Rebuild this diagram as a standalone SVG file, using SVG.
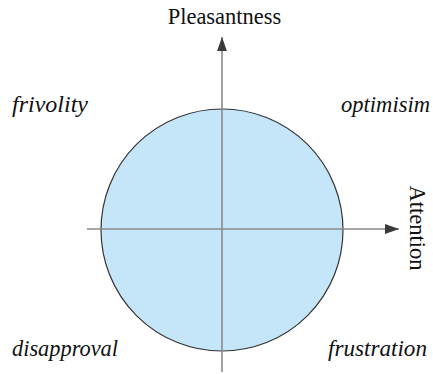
<svg xmlns="http://www.w3.org/2000/svg" width="433" height="374" viewBox="0 0 433 374">
<defs>
<style>
.axis{stroke:#8a8a8a;stroke-width:1.6;fill:none}
.lbl{font-family:"Liberation Serif","Times New Roman",serif;font-size:22.5px;fill:#111}
.it{font-style:italic}
</style>
<marker id="ah" viewBox="0 0 10 10" refX="10" refY="5" markerWidth="14" markerHeight="14" markerUnits="userSpaceOnUse" orient="auto">
<path d="M0,1.5 L10,5 L0,8.5 Z" fill="#3a3a3a"/>
</marker>
</defs>
<rect width="433" height="374" fill="#fff"/>
<g id="circle">
<circle cx="222" cy="230" r="121" fill="#c4e6f8" stroke="#333" stroke-width="1.2"/>
</g>
<g id="connectors">
<line class="axis" x1="222" y1="372" x2="222" y2="37" marker-end="url(#ah)"/>
<line class="axis" x1="87" y1="229" x2="399" y2="229" marker-end="url(#ah)"/>
</g>
<g id="pleasantness"><text class="lbl" x="224.5" y="24" text-anchor="middle">Pleasantness</text></g>
<g id="attention"><text class="lbl" transform="translate(410,228) rotate(90)" text-anchor="middle">Attention</text></g>
<g id="frivolity"><text class="lbl it" x="12" y="112" textLength="76" lengthAdjust="spacingAndGlyphs">frivolity</text></g>
<g id="optimisim"><text class="lbl it" x="341" y="112" textLength="89" lengthAdjust="spacingAndGlyphs">optimisim</text></g>
<g id="disapproval"><text class="lbl it" x="12" y="356" textLength="106" lengthAdjust="spacingAndGlyphs">disapproval</text></g>
<g id="frustration"><text class="lbl it" x="328" y="356" textLength="99" lengthAdjust="spacingAndGlyphs">frustration</text></g>
</svg>
